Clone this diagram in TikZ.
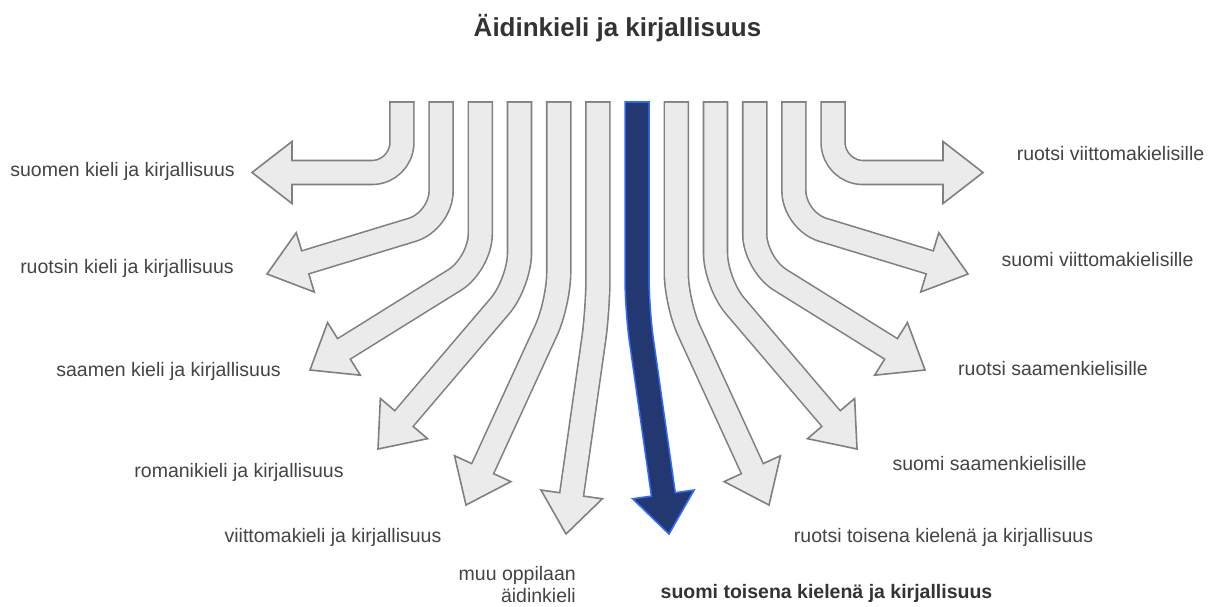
\documentclass[tikz,border=0pt]{standalone}
\usepackage{fontspec}
\setmainfont{Liberation Sans}
\usetikzlibrary{calc}
\definecolor{arrfill}{HTML}{EBEBEB}
\definecolor{arrline}{HTML}{808080}
\definecolor{navyfill}{HTML}{233870}
\definecolor{navyline}{HTML}{2F6BFF}
\definecolor{labelgray}{HTML}{444444}
\definecolor{titlegray}{HTML}{333333}
\tikzset{
  lbl/.style={inner sep=0pt, text=labelgray, font=\fontsize{19.5pt}{22pt}\selectfont, anchor=base},
  boldlbl/.style={inner sep=0pt, text=titlegray, font=\fontsize{19.5pt}{22pt}\selectfont\bfseries, anchor=base},
  titlelbl/.style={inner sep=0pt, text=titlegray, font=\fontsize{26pt}{30pt}\selectfont\bfseries, anchor=base}
}
% name, x, corner y, tip x, tip y, fill colour, line colour
\newcommand{\fanarrow}[7]{%
  \coordinate (#1-top) at (#2,102);
  \coordinate (#1-c) at (#2,#3);
  \coordinate (#1-tip) at (#4,#5);
  \coordinate (#1-b) at ($(#1-tip)!40pt!(#1-c)$);
  \coordinate (#1-bi) at ($(#1-tip)!36pt!(#1-c)$);
  \coordinate (#1-h1) at ($(#1-b)!31pt!90:(#1-tip)$);
  \coordinate (#1-h2) at ($(#1-b)!31pt!-90:(#1-tip)$);
  \draw[#7, line width=25.6pt, rounded corners=30pt] ($(#1-top)+(0,-0.8)$) -- (#1-c) -- (#1-b);
  \filldraw[fill=#6, draw=#7, line width=1.6pt, line join=miter] (#1-h1) -- (#1-tip) -- (#1-h2) -- cycle;
  \draw[#6, line width=22.4pt, rounded corners=30pt] ($(#1-top)+(0,0.8)$) -- (#1-c) -- (#1-bi);
}
\begin{document}
\begin{tikzpicture}[x=1pt,y=-1pt]
\fill[white] (0,0) rectangle (1214,606);
\useasboundingbox (0,0) rectangle (1214,606);

\node[titlelbl] (title) at (617.5,36) {Äidinkieli ja kirjallisuus};

\fanarrow{l1}{401.9}{172.5}{252}{172.5}{arrfill}{arrline}
\fanarrow{l2}{441.1}{221}{267}{274}{arrfill}{arrline}
\fanarrow{l3}{480.3}{264}{310}{370}{arrfill}{arrline}
\fanarrow{l4}{519.5}{283}{378}{449}{arrfill}{arrline}
\fanarrow{l5}{558.7}{303}{466}{505}{arrfill}{arrline}
\fanarrow{l6}{597.9}{310}{566}{534}{arrfill}{arrline}
\fanarrow{bl}{637.1}{310}{669}{534}{navyfill}{navyline}
\fanarrow{r5}{676.3}{303}{769}{505}{arrfill}{arrline}
\fanarrow{r4}{715.5}{283}{857}{449}{arrfill}{arrline}
\fanarrow{r3}{754.7}{264}{925}{370}{arrfill}{arrline}
\fanarrow{r2}{793.9}{221}{968}{274}{arrfill}{arrline}
\fanarrow{r1}{833.1}{172.5}{983}{172.5}{arrfill}{arrline}

\node[lbl] (t1) at (122.5,176) {suomen kieli ja kirjallisuus};
\node[lbl] (t2) at (127,273) {ruotsin kieli ja kirjallisuus};
\node[lbl] (t3) at (168.5,376) {saamen kieli ja kirjallisuus};
\node[lbl] (t4) at (239,477) {romanikieli ja kirjallisuus};
\node[lbl] (t5) at (333,542) {viittomakieli ja kirjallisuus};
\node[lbl, anchor=north east, align=right] (t6) at (576,566.5) {muu oppilaan\\äidinkieli};
\node[boldlbl] (t7) at (826.5,598) {suomi toisena kielenä ja kirjallisuus};
\node[lbl] (t8) at (943.5,542) {ruotsi toisena kielenä ja kirjallisuus};
\node[lbl] (t9) at (989.5,470) {suomi saamenkielisille};
\node[lbl] (t10) at (1053,375) {ruotsi saamenkielisille};
\node[lbl] (t11) at (1097.5,266) {suomi viittomakielisille};
\node[lbl] (t12) at (1110.5,160) {ruotsi viittomakielisille};
\end{tikzpicture}
\end{document}
